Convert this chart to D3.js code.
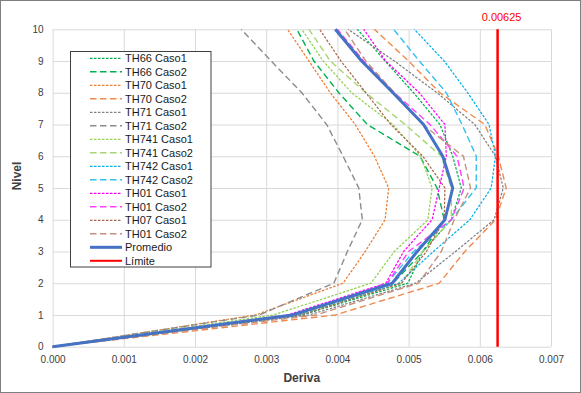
<!DOCTYPE html>
<html><head><meta charset="utf-8">
<script src="https://cdn.jsdelivr.net/npm/d3@7"></script>
<style>body{margin:0;background:#fff}svg{display:block;font-family:"Liberation Sans",Arial,sans-serif}</style>
</head><body><svg id="c" width="581" height="393"></svg>
<script>
const niveles = [0,1,2,3,4,5,6,7,8,9,10];
const xTicks = [0,0.001,0.002,0.003,0.004,0.005,0.006,0.007];
const yTicks = [0,1,2,3,4,5,6,7,8,9,10];
const th66c1  = [0,0.0035,0.00499,0.0052,0.0056,0.00574,0.00562,0.00544,0.00507,0.00467,0.00428];
const th66c2  = [0,0.00345,0.00478,0.0052,0.0055,0.0054,0.00516,0.00442,0.00402,0.00367,0.00343];
const th70c1  = [0,0.00285,0.00408,0.00439,0.00467,0.00472,0.00452,0.00425,0.0039,0.0036,0.0033];
const th70c2  = [0,0.00397,0.00543,0.00579,0.00622,0.00637,0.00626,0.00607,0.00544,0.005,0.00452];
const th71c1  = [0,0.0036,0.0051,0.00566,0.0062,0.00633,0.00622,0.00593,0.0054,0.0048,0.00415];
const th71c2  = [0,0.0029,0.00395,0.00414,0.00435,0.0043,0.00408,0.00385,0.0035,0.00307,0.00265];
const th741c1 = [0,0.0031,0.00447,0.0048,0.00527,0.00533,0.00517,0.00478,0.0042,0.0038,0.0035];
const th741c2 = [0,0.00345,0.0049,0.0052,0.0056,0.0056,0.00546,0.00495,0.0044,0.0039,0.0036];
const th742c1 = [0,0.0035,0.00486,0.00535,0.00586,0.00616,0.00622,0.00613,0.00583,0.0055,0.00508];
const th742c2 = [0,0.0034,0.0047,0.00507,0.0056,0.00595,0.00595,0.00575,0.00553,0.00515,0.00479];
const th01c1  = [0,0.0033,0.00468,0.00493,0.00533,0.00543,0.00553,0.00551,0.00515,0.00468,0.00437];
const th01c2  = [0,0.0034,0.0047,0.005,0.0056,0.00578,0.00568,0.0053,0.0048,0.00437,0.004];
const th07c1  = [0,0.0035,0.0049,0.00525,0.0055,0.00551,0.0052,0.00475,0.0044,0.00405,0.00375];
const th01c2b = [0,0.0037,0.00514,0.00546,0.00564,0.00587,0.00577,0.0052,0.0048,0.0044,0.0041];
const promedio = [0,0.00337,0.00477,0.00512,0.00551,0.00562,0.00548,0.00521,0.00478,0.00434,0.00397];
const limite = 0.00625;
const nombres = ["TH66 Caso1","TH66 Caso2","TH70 Caso1","TH70 Caso2","TH71 Caso1","TH71 Caso2","TH741 Caso1","TH741 Caso2","TH742 Caso1","TH742 Caso2","TH01 Caso1","TH01 Caso2","TH07 Caso1","TH01 Caso2","Promedio","Límite"];

const DOT="2.5,1.5", DASH="6.5,3.5";
const series = [
  {v:th66c1, c:"#00b050", d:DOT, w:1.25},
  {v:th66c2, c:"#00b050", d:DASH, w:1.4},
  {v:th70c1, c:"#ed7d31", d:DOT, w:1.25},
  {v:th70c2, c:"#f08a4b", d:DASH, w:1.4},
  {v:th71c1, c:"#808080", d:DOT, w:1.25},
  {v:th71c2, c:"#8c8c8c", d:DASH, w:1.4},
  {v:th741c1, c:"#92d050", d:DOT, w:1.25},
  {v:th741c2, c:"#a5d672", d:DASH, w:1.4},
  {v:th742c1, c:"#00b0f0", d:DOT, w:1.25},
  {v:th742c2, c:"#33c0f2", d:DASH, w:1.4},
  {v:th01c1, c:"#ff00ff", d:DOT, w:1.25},
  {v:th01c2, c:"#ff40ff", d:DASH, w:1.4},
  {v:th07c1, c:"#a8684f", d:DOT, w:1.25},
  {v:th01c2b, c:"#c4907e", d:DASH, w:1.4}
];

const svg = d3.select("#c");
svg.append("rect").attr("x",0.5).attr("y",0.5).attr("width",580).attr("height",392).attr("fill","#fff").attr("stroke","#7f7f7f");

const x = d3.scaleLinear().domain([0,0.007]).range([52.6,551]);
const y = d3.scaleLinear().domain([0,10]).range([346.7,29.3]);

// grid
svg.append("g").attr("transform","translate(0,346.7)")
  .call(d3.axisBottom(x).tickValues(xTicks).tickSize(-317.4).tickFormat(""))
  .call(g=>{g.select(".domain").remove();g.selectAll("line").attr("stroke","#d9d9d9");});
svg.append("g").attr("transform","translate(52.6,0)")
  .call(d3.axisLeft(y).tickValues(yTicks).tickSize(-498.4).tickFormat(""))
  .call(g=>{g.select(".domain").remove();g.selectAll("line").attr("stroke","#d9d9d9");});

// tick labels
svg.append("g").attr("transform","translate(0,346.7)")
  .call(d3.axisBottom(x).tickValues(xTicks).tickSize(0).tickPadding(9).tickFormat(d3.format(".3f")))
  .call(g=>{g.select(".domain").remove();g.selectAll("text").attr("font-size","10px").attr("fill","#404040").attr("font-family","Liberation Sans, Arial");});
svg.append("g").attr("transform","translate(52.6,0)")
  .call(d3.axisLeft(y).tickValues(yTicks).tickSize(0).tickPadding(9))
  .call(g=>{g.select(".domain").remove();g.selectAll("text").attr("font-size","10px").attr("fill","#404040").attr("font-family","Liberation Sans, Arial");});

// titles
svg.append("text").attr("x",301.8).attr("y",381.5).attr("text-anchor","middle").attr("font-size","12px").attr("font-weight","bold").attr("fill","#404040").text("Deriva");
svg.append("text").attr("transform","translate(20.5,176) rotate(-90)").attr("text-anchor","middle").attr("font-size","12px").attr("font-weight","bold").attr("fill","#404040").text("Nivel");

const line = d3.line().x(d=>x(d[0])).y(d=>y(d[1]));
const gL = svg.append("g");
series.forEach(s=>{
  gL.append("path").attr("d",line(s.v.map((v,i)=>[v,niveles[i]]))).attr("fill","none")
    .attr("stroke",s.c).attr("stroke-width",s.w).attr("stroke-dasharray",s.d);
});
gL.append("path").attr("d",line(promedio.map((v,i)=>[v,niveles[i]]))).attr("fill","none")
  .attr("stroke","#4472c4").attr("stroke-width",3).attr("stroke-linejoin","round");
gL.append("path").attr("d",line([[limite,0],[limite,10]])).attr("fill","none")
  .attr("stroke","#ff0000").attr("stroke-width",2.5);
svg.append("text").attr("x",x(limite)+4).attr("y",20.5).attr("text-anchor","middle").attr("font-size","11px").attr("fill","#ff0000").text(limite.toString());

// legend
const lg = svg.append("g");
lg.append("rect").attr("x",70.5).attr("y",51.5).attr("width",140.5).attr("height",215.5).attr("fill","#fff").attr("stroke","#404040");
const legItems = series.map(s=>({c:s.c,d:s.d,w:s.w}))
  .concat([{c:"#4472c4",d:null,w:3},{c:"#ff0000",d:null,w:2}]);
legItems.forEach((it,i)=>{
  const cy = 58.3 + i*13.5;
  lg.append("line").attr("x1",90).attr("x2",122).attr("y1",cy).attr("y2",cy)
    .attr("stroke",it.c).attr("stroke-width",it.w).attr("stroke-dasharray",it.d);
  lg.append("text").attr("x",125).attr("y",cy+4).attr("font-size","11px").attr("fill","#1a1a1a").text(nombres[i]);
});
</script></body></html>
